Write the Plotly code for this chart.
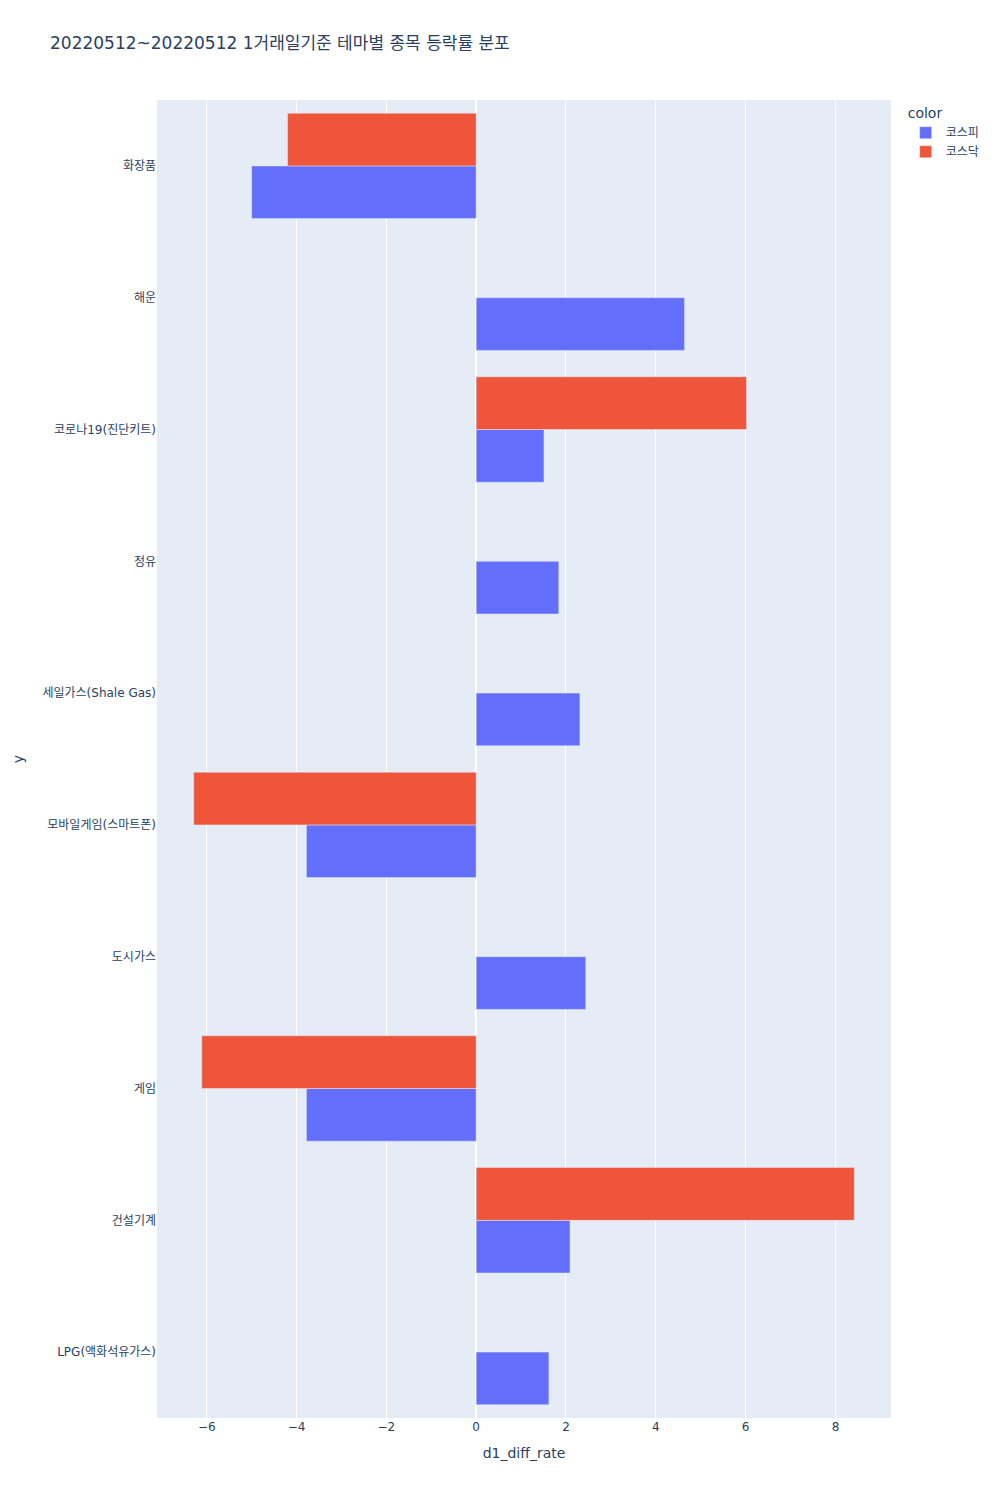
import plotly.graph_objects as go

# Themes, bottom to top (plotly puts the first category at the bottom)
themes = ['LPG(액화석유가스)', '건설기계', '게임', '도시가스', '모바일게임(스마트폰)',
          '세일가스(Shale Gas)', '정유', '코로나19(진단키트)', '해운', '화장품']

# 코스피 values for every theme
kospi_rate = [1.62, 2.09, -3.78, 2.44, -3.78, 2.31, 1.84, 1.51, 4.64, -5.0]

# 코스닥 only has some of the themes
kosdaq_themes = ['건설기계', '게임', '모바일게임(스마트폰)', '코로나19(진단키트)', '화장품']
kosdaq_rate = [8.42, -6.11, -6.29, 6.02, -4.2]

fig = go.Figure()

fig.add_trace(go.Bar(
    x=kospi_rate,
    y=themes,
    name='코스피',
    orientation='h',
    marker_color='#636efa',
))

fig.add_trace(go.Bar(
    x=kosdaq_rate,
    y=kosdaq_themes,
    name='코스닥',
    orientation='h',
    marker_color='#EF553B',
))

fig.update_layout(
    title=dict(text='20220512~20220512 1거래일기준 테마별 종목 등락률 분포',
               x=0.042, y=1 - 35 / 1500, yanchor='middle'),
    barmode='group',
    width=1000, height=1500,
    # page body adds 8px, margins pulled in to compensate
    margin=dict(l=149, r=117, t=92, b=90),
    font=dict(family='DejaVu Sans, Noto Sans CJK KR, sans-serif'),
    legend_title_text='color',
    xaxis=dict(title='d1_diff_rate', automargin=False),
    yaxis=dict(title='y', automargin=False),
)

fig.write_html("out.html")
